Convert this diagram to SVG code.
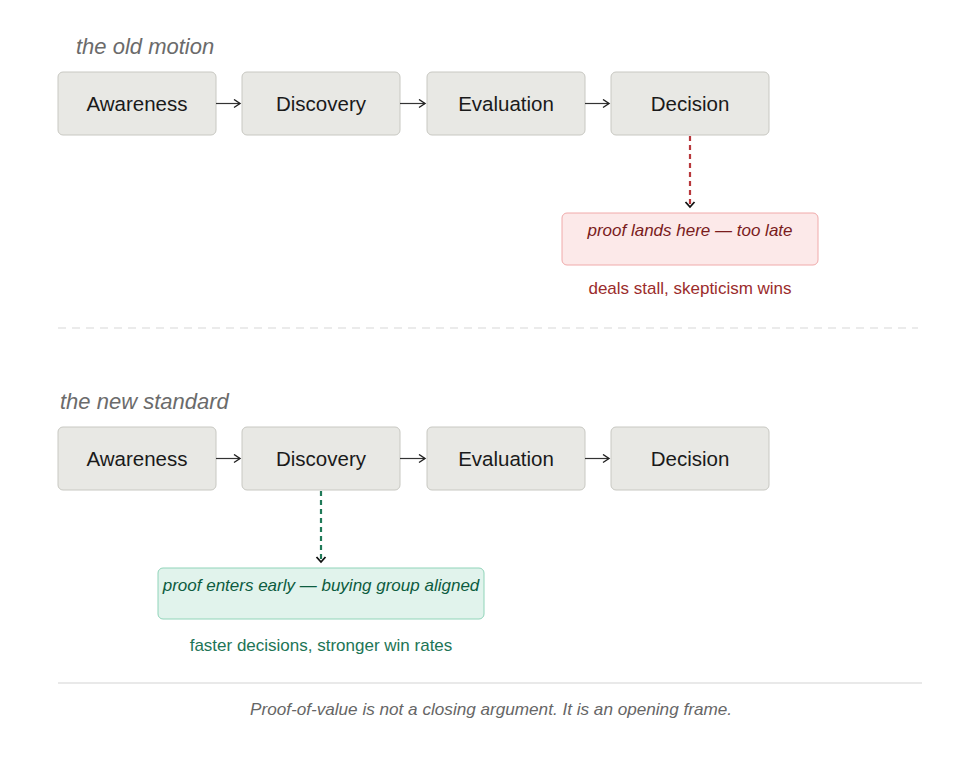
<svg xmlns="http://www.w3.org/2000/svg" width="980" height="778" viewBox="0 0 980 778">
<style>
.box{fill:#e8e8e4;stroke:#c8c8c2;stroke-width:1}
.lbl{font-family:"Liberation Sans",Arial,sans-serif;font-size:20.5px;fill:#1a1a1a;text-anchor:middle}
.title{font-family:"Liberation Sans",Arial,sans-serif;font-size:22px;font-style:italic;fill:#6b6b6b}
.conn{stroke:#333;stroke-width:1.2;fill:none}
</style>
<defs>
<marker id="ah" markerWidth="10" markerHeight="10" refX="8" refY="5" orient="auto" markerUnits="userSpaceOnUse">
<path d="M2,1 L8,5 L2,9" fill="none" stroke="#222" stroke-width="1.4"/>
</marker>
<marker id="ahd" markerWidth="12" markerHeight="12" refX="6" refY="10" orient="0" markerUnits="userSpaceOnUse">
<path d="M1.5,5 L6,10 L10.5,5" fill="none" stroke="#111" stroke-width="1.8"/>
</marker>
</defs>
<rect width="980" height="778" fill="#fff"/>
<text class="title" x="76" y="54">the old motion</text>
<g id="old-awareness"><rect class="box" x="58" y="72" width="158" height="63" rx="5"/><text class="lbl" x="137" y="111">Awareness</text></g>
<g id="old-discovery"><rect class="box" x="242" y="72" width="158" height="63" rx="5"/><text class="lbl" x="321" y="111">Discovery</text></g>
<g id="old-evaluation"><rect class="box" x="427" y="72" width="158" height="63" rx="5"/><text class="lbl" x="506" y="111">Evaluation</text></g>
<g id="old-decision"><rect class="box" x="611" y="72" width="158" height="63" rx="5"/><text class="lbl" x="690" y="111">Decision</text></g>
<g id="old-proof"><rect x="562" y="213" width="256" height="52" rx="5" fill="#fce9e9" stroke="#f0aaaa"/><text x="690" y="236" text-anchor="middle" font-family="'Liberation Sans',Arial,sans-serif" font-size="17" font-style="italic" fill="#7a1c1c">proof lands here — too late</text></g>
<text x="690" y="294" text-anchor="middle" font-family="'Liberation Sans',Arial,sans-serif" font-size="17" fill="#9b2c2c">deals stall, skepticism wins</text>
<line x1="58" y1="328" x2="918" y2="328" stroke="#d8d8d8" stroke-width="1.2" stroke-dasharray="8,6"/>
<text class="title" x="60" y="409">the new standard</text>
<g id="new-awareness"><rect class="box" x="58" y="427" width="158" height="63" rx="5"/><text class="lbl" x="137" y="466">Awareness</text></g>
<g id="new-discovery"><rect class="box" x="242" y="427" width="158" height="63" rx="5"/><text class="lbl" x="321" y="466">Discovery</text></g>
<g id="new-evaluation"><rect class="box" x="427" y="427" width="158" height="63" rx="5"/><text class="lbl" x="506" y="466">Evaluation</text></g>
<g id="new-decision"><rect class="box" x="611" y="427" width="158" height="63" rx="5"/><text class="lbl" x="690" y="466">Decision</text></g>
<g id="new-proof"><rect x="158" y="568" width="326" height="51" rx="5" fill="#e1f3ec" stroke="#90d4b9"/><text x="321" y="591" text-anchor="middle" font-family="'Liberation Sans',Arial,sans-serif" font-size="17" font-style="italic" fill="#0d5c40">proof enters early — buying group aligned</text></g>
<text x="321" y="651" text-anchor="middle" font-family="'Liberation Sans',Arial,sans-serif" font-size="17" fill="#1d7556">faster decisions, stronger win rates</text>
<g id="connectors">
<line class="conn" x1="216" y1="103.5" x2="240" y2="103.5" marker-end="url(#ah)"/>
<line class="conn" x1="400" y1="103.5" x2="425" y2="103.5" marker-end="url(#ah)"/>
<line class="conn" x1="585" y1="103.5" x2="609" y2="103.5" marker-end="url(#ah)"/>
<line class="conn" x1="216" y1="458.5" x2="240" y2="458.5" marker-end="url(#ah)"/>
<line class="conn" x1="400" y1="458.5" x2="425" y2="458.5" marker-end="url(#ah)"/>
<line class="conn" x1="585" y1="458.5" x2="609" y2="458.5" marker-end="url(#ah)"/>
<line x1="690" y1="136" x2="690" y2="207" stroke="#b8383c" stroke-width="2.2" stroke-dasharray="5,4" marker-end="url(#ahd)"/>
<line x1="321" y1="491" x2="321" y2="562" stroke="#1f7a58" stroke-width="2.2" stroke-dasharray="5,4" marker-end="url(#ahd)"/>
</g>
<line x1="58" y1="683" x2="922" y2="683" stroke="#e2e2e2" stroke-width="1.5"/>
<text x="491" y="715" text-anchor="middle" font-family="'Liberation Sans',Arial,sans-serif" font-size="17" font-style="italic" fill="#666" textLength="482" lengthAdjust="spacingAndGlyphs">Proof-of-value is not a closing argument. It is an opening frame.</text>
</svg>
